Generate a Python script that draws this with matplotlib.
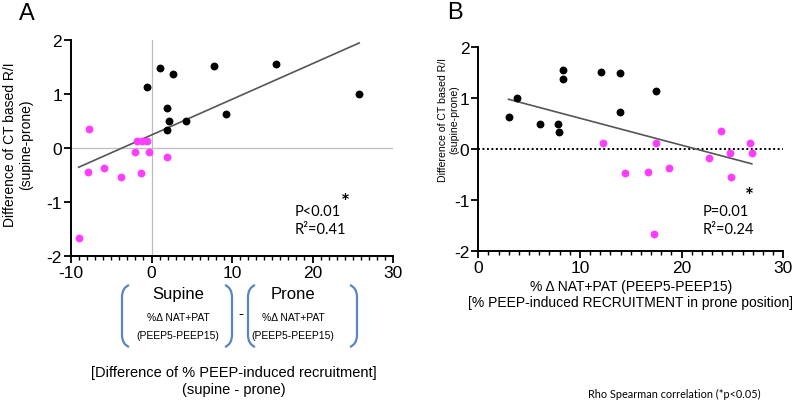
import numpy as np
import matplotlib
matplotlib.use("Agg")
import matplotlib.pyplot as plt
from matplotlib.path import Path
from matplotlib.patches import PathPatch

plt.rcParams['font.family'] = ['Liberation Sans', 'DejaVu Sans']
plt.rcParams['axes.unicode_minus'] = False

# ---- Panel A data: difference of recruitment (supine - prone) vs difference of R/I
a_black_x = [1.03, -0.58, 2.64, 1.90, 2.23, 1.98, 4.34, 7.81, 9.21, 15.5, 25.8]
a_black_y = [1.48, 1.13, 1.36, 0.73, 0.49, 0.33, 0.49, 1.51, 0.63, 1.55, 1.00]
a_mag_x = [-7.73, -7.85, -5.91, -3.80, -2.07, -1.74, -1.16, -0.58, -1.32, -0.25, 1.98, -9.05]
a_mag_y = [0.34, -0.45, -0.37, -0.54, -0.07, 0.12, 0.12, 0.12, -0.46, -0.07, -0.17, -1.66]

# ---- Panel B data: % recruitment in prone vs difference of R/I
b_black_x = [2.98, 3.84, 6.03, 7.80, 7.90, 8.36, 8.36, 12.03, 13.93, 13.93, 17.5]
b_black_y = [0.64, 1.00, 0.50, 0.50, 0.33, 1.56, 1.37, 1.52, 1.50, 0.73, 1.14]
b_mag_x = [12.26, 14.39, 16.66, 17.48, 18.79, 22.66, 23.9, 24.75, 24.89, 26.7, 26.9, 17.28]
b_mag_y = [0.12, -0.46, -0.45, 0.12, -0.37, -0.17, 0.35, -0.07, -0.54, 0.12, -0.07, -1.67]

y_ticks = [-2, -1, 0, 1, 2]
a_x_ticks = [-10, 0, 10, 20, 30]
b_x_ticks = [0, 10, 20, 30]

MAG = '#ff3dff'
W, H = 797, 402
fig = plt.figure(figsize=(W / 100, H / 100), dpi=100)


def style_axes(ax, xlim, xticks):
    ax.set_xlim(*xlim)
    ax.set_ylim(-2, 2)
    ax.set_xticks(xticks)
    ax.set_yticks(y_ticks)
    ax.set_xticks(np.arange(xlim[0], xlim[1] + 0.5, 1), minor=True)
    for s in ['top', 'right']:
        ax.spines[s].set_visible(False)
    for s in ['left', 'bottom']:
        ax.spines[s].set_linewidth(1.4)
    ax.tick_params(axis='both', which='major', length=5, width=1.3, labelsize=12.5, pad=1.5)
    ax.tick_params(axis='x', which='minor', length=3, width=1.0)
    ax.patch.set_alpha(0)


def fit_line(ax, xs, ys):
    xs = np.asarray(xs); ys = np.asarray(ys)
    k, b = np.polyfit(xs, ys, 1)
    xx = np.array([xs.min(), xs.max()])
    ax.plot(xx, k * xx + b, color='#555555', lw=1.2, zorder=2)


# ---------------- Panel A ----------------
axA = fig.add_axes([71 / W, 1 - 257 / H, 322 / W, 216.3 / H])
style_axes(axA, (-10, 30), a_x_ticks)
axA.axvline(0, color='#bdbdbd', lw=0.9, zorder=1)
axA.axhline(0, color='#bdbdbd', lw=0.9, zorder=1)
all_ax = a_black_x + a_mag_x
all_ay = a_black_y + a_mag_y
fit_line(axA, all_ax, all_ay)
axA.scatter(a_black_x, a_black_y, s=32, color='black', zorder=3, linewidths=0)
axA.scatter(a_mag_x, a_mag_y, s=32, color=MAG, zorder=3, linewidths=0)
axA.set_ylabel('Difference of CT based R/I\n(supine-prone)', fontsize=10, linespacing=1.15)
axA.yaxis.set_label_coords((33 - 71) / 322, (257 - 145) / 216.3)

# ---------------- Panel B ----------------
axB = fig.add_axes([478.3 / W, 1 - 252.3 / H, 305 / W, 204 / H])
style_axes(axB, (0, 30), b_x_ticks)
axB.axhline(0, color='black', lw=1.4, ls=(0, (1, 1.3)), zorder=1)
all_bx = b_black_x + b_mag_x
all_by = b_black_y + b_mag_y
fit_line(axB, all_bx, all_by)
axB.scatter(b_black_x, b_black_y, s=32, color='black', zorder=3, linewidths=0)
axB.scatter(b_mag_x, b_mag_y, s=32, color=MAG, zorder=3, linewidths=0)
axB.set_ylabel('Difference of CT based R/I\n(supine-prone)', fontsize=7.6, linespacing=1.15)
axB.yaxis.set_label_coords((459 - 478.3) / 305, (252.3 - 120) / 204)
axB.set_xlabel('% \u0394 NAT+PAT (PEEP5-PEEP15)\n[% PEEP-induced RECRUITMENT in prone position]',
               fontsize=10, linespacing=1.15, labelpad=3)

# ---------------- Overlay (pixel coordinates) ----------------
ov = fig.add_axes([0, 0, 1, 1])
ov.set_xlim(0, W)
ov.set_ylim(H, 0)
ov.axis('off')

ov.text(27, 14, 'A', fontsize=17, ha='center', va='center')
ov.text(455, 13, 'B', fontsize=17, ha='center', va='center')

calib = ['Lato', 'DejaVu Sans']
ov.text(295, 212, 'P<0.01', fontsize=10.5, family=calib, ha='left', va='center')
ov.text(295, 230, 'R\u00b2=0.41', fontsize=10.5, family=calib, ha='left', va='center')
ov.text(345, 203, '*', fontsize=15, family=calib, ha='center', va='center', fontweight='bold')
ov.text(703, 212, 'P=0.01', fontsize=10.5, family=calib, ha='left', va='center')
ov.text(703, 230, 'R\u00b2=0.24', fontsize=10.5, family=calib, ha='left', va='center')
ov.text(749, 197, '*', fontsize=15, family=calib, ha='center', va='center', fontweight='bold')

ov.text(674, 394, 'Rho Spearman correlation (*p<0.05)', fontsize=7.8, family=calib, ha='center', va='center')

# bracket annotation under panel A
BLUE = '#5b84c4'


def paren(x, top, bot, side):
    d = 7 * side
    verts = [(x + d, top), (x, top + 3), (x, top + 12), (x, bot - 12), (x, bot - 3), (x + d, bot)]
    codes = [Path.MOVETO, Path.CURVE3, Path.CURVE3, Path.LINETO, Path.CURVE3, Path.CURVE3]
    ov.add_patch(PathPatch(Path(verts, codes), fill=False, edgecolor=BLUE, lw=1.6))


paren(122, 286, 348, 1)
paren(232, 286, 348, -1)
paren(248, 286, 348, 1)
paren(357, 286, 348, -1)

for cx, word in [(178, 'Supine'), (293, 'Prone')]:
    ov.text(cx, 295, word, fontsize=12, ha='center', va='center')
    ov.text(cx, 318, '%\u0394 NAT+PAT', fontsize=7.5, ha='center', va='center')
    ov.text(cx, 336, '(PEEP5-PEEP15)', fontsize=7.5, ha='center', va='center')
ov.text(241, 314, '-', fontsize=11, ha='center', va='center')

ov.text(234, 373, '[Difference of % PEEP-induced recruitment]', fontsize=10.5, ha='center', va='center')
ov.text(234, 390, '(supine - prone)', fontsize=10.5, ha='center', va='center')

fig.savefig('out.png', dpi=100)
